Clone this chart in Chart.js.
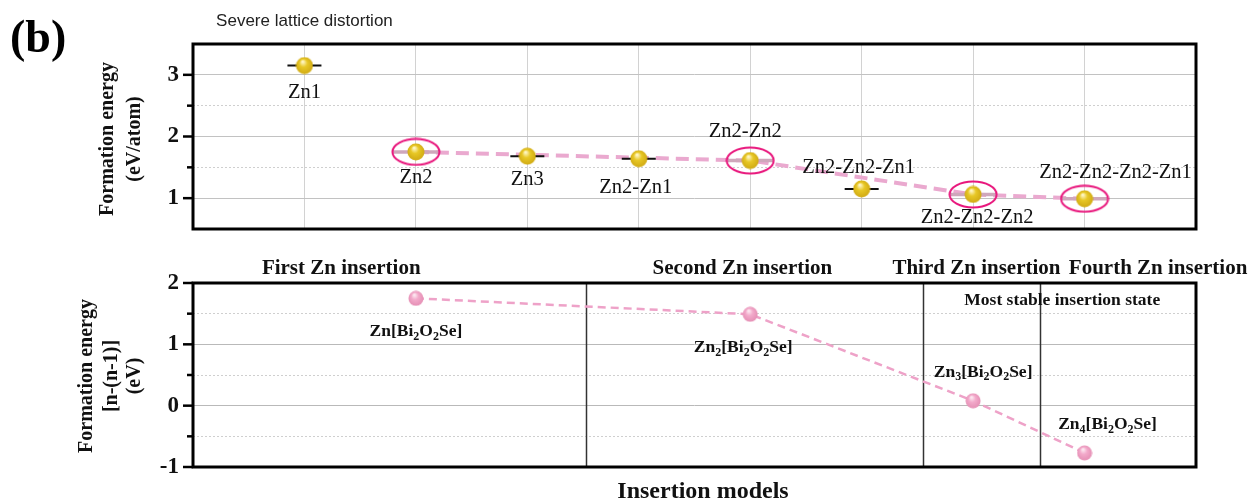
<!DOCTYPE html>
<html>
<head>
<meta charset="utf-8">
<script src="https://cdn.jsdelivr.net/npm/chart.js@4.4.1/dist/chart.umd.min.js"></script>
<style>
  html, body { margin: 0; padding: 0; background: #fff; }
  #wrap { position: relative; width: 1252px; height: 502px; overflow: hidden; }
  #wrap canvas { position: absolute; left: 0; top: 0; }
</style>
</head>
<body>
<div id="wrap">
  <canvas id="perAtom" width="1252" height="502"></canvas>
  <canvas id="perStep" width="1252" height="502"></canvas>
</div>
<script>
// ---- data ----
const models = ['Zn1', 'Zn2', 'Zn3', 'Zn2-Zn1', 'Zn2-Zn2', 'Zn2-Zn2-Zn1', 'Zn2-Zn2-Zn2', 'Zn2-Zn2-Zn2-Zn1'];
const energyPerAtom = [3.15, 1.75, 1.68, 1.64, 1.61, 1.15, 1.06, 0.99];
const stableModels = ['Zn2', 'Zn2-Zn2', 'Zn2-Zn2-Zn2', 'Zn2-Zn2-Zn2-Zn1'];

const insertionSteps = ['First Zn insertion', 'Second Zn insertion', 'Third Zn insertion', 'Fourth Zn insertion'];
const stepFormulas = ['Zn[Bi2O2Se]', 'Zn2[Bi2O2Se]', 'Zn3[Bi2O2Se]', 'Zn4[Bi2O2Se]'];
const stepEnergy = [1.75, 1.49, 0.08, -0.77];

const perAtomTickLabels = [1, 2, 3];
const perStepTickLabels = [-1, 0, 1, 2];

// ---- layout ----
const topLabelOffsets = [[0, 27], [0, 26], [0, 23], [-3, 29], [-5, -29], [-3, -21], [4, 23], [31, -26]];
const bottomLabelOffsets = [[0, 32], [-7, 32], [10, -30], [23, -30]];
const stepTitleX = [1.33, 4.93, 7.03, 8.66];
const stageDividers = [3.53, 6.55, 7.6];

const SERIF = '"Liberation Serif", "Times New Roman", serif';
const SANS = '"Liberation Sans", Arial, sans-serif';

// ---- point glyphs ----
function sphere(d, light, base, dark) {
  const c = document.createElement('canvas');
  c.width = c.height = d;
  const g = c.getContext('2d');
  const r = d / 2;
  const grd = g.createRadialGradient(r * 0.8, r * 0.55, r * 0.08, r, r, r);
  grd.addColorStop(0, light);
  grd.addColorStop(0.4, base);
  grd.addColorStop(1, dark);
  g.fillStyle = grd;
  g.beginPath();
  g.arc(r, r, r - 0.5, 0, Math.PI * 2);
  g.fill();
  return c;
}
function ring(w, h, color) {
  const c = document.createElement('canvas');
  c.width = w; c.height = h;
  const g = c.getContext('2d');
  g.strokeStyle = color;
  g.lineWidth = 2;
  g.beginPath();
  g.ellipse(w / 2, h / 2, w / 2 - 1.5, h / 2 - 1.5, 0, 0, Math.PI * 2);
  g.stroke();
  return c;
}
const goldBall = sphere(18, '#fff6c4', '#e8c826', '#cfa812');
const pinkBall = sphere(16, '#fde8f1', '#f3aacb', '#e48db3');
const stableRing = ring(50, 29, '#e8167c');

// ---- helpers ----
function numTick(v) { return Math.round(v * 2) / 2; }
function drawFrame(chart) {
  const { ctx, chartArea: a } = chart;
  ctx.save();
  ctx.strokeStyle = '#000';
  ctx.lineWidth = 3;
  ctx.strokeRect(a.left, a.top, a.right - a.left, a.bottom - a.top);
  ctx.restore();
}
function drawTickMarks(chart, labelled) {
  const { ctx, chartArea: a } = chart;
  const y = chart.scales.y;
  ctx.save();
  ctx.strokeStyle = '#000';
  ctx.lineWidth = 2.5;
  y.ticks.forEach(t => {
    const major = labelled.includes(t.value);
    const edge = t.value === y.min || t.value === y.max;
    if (!major && edge) return;
    const py = y.getPixelForValue(t.value);
    const len = major ? 10 : 6;
    ctx.beginPath();
    ctx.moveTo(a.left - len, py);
    ctx.lineTo(a.left, py);
    ctx.stroke();
  });
  ctx.restore();
}
function verticalText(ctx, lines, xs, cy, font) {
  ctx.save();
  ctx.font = font;
  ctx.fillStyle = '#111';
  ctx.textAlign = 'center';
  ctx.textBaseline = 'middle';
  lines.forEach((s, i) => {
    ctx.save();
    ctx.translate(xs[i], cy);
    ctx.rotate(-Math.PI / 2);
    ctx.fillText(s, 0, 0);
    ctx.restore();
  });
  ctx.restore();
}
// chemical formula with subscript digits
function drawFormula(ctx, text, cx, cy, size) {
  const runs = [];
  for (const ch of text) {
    const sub = /[0-9]/.test(ch);
    if (runs.length && runs[runs.length - 1].sub === sub) runs[runs.length - 1].s += ch;
    else runs.push({ s: ch, sub });
  }
  const mainFont = `bold ${size}px ${SERIF}`;
  const subFont = `bold ${Math.round(size * 0.66)}px ${SERIF}`;
  let w = 0;
  runs.forEach(r => { ctx.font = r.sub ? subFont : mainFont; r.w = ctx.measureText(r.s).width; w += r.w; });
  let x = cx - w / 2;
  const base = cy + size * 0.33;
  ctx.textAlign = 'left';
  ctx.textBaseline = 'alphabetic';
  runs.forEach(r => {
    ctx.font = r.sub ? subFont : mainFont;
    ctx.fillText(r.s, x, r.sub ? base + size * 0.22 : base);
    x += r.w;
  });
}

const perAtomPoints = models.map((m, i) => ({ x: i + 1, y: energyPerAtom[i] }));
const stablePoints = perAtomPoints.filter((p, i) => stableModels.includes(models[i]));
const otherPoints = perAtomPoints.filter((p, i) => !stableModels.includes(models[i]));
const stepPoints = stableModels.map((m, i) => ({ x: models.indexOf(m) + 1, y: stepEnergy[i] }));

function yAxis(min, max, labels, majorColor) {
  return {
    type: 'linear', min, max,
    afterFit: s => { s.width = 60; },
    ticks: {
      stepSize: 0.5, autoSkip: false, padding: 14,
      color: '#111',
      font: { family: SERIF, size: 23, weight: 'bold' },
      callback: v => labels.includes(numTick(v)) ? String(numTick(v)) : ''
    },
    grid: {
      drawTicks: false,
      lineWidth: 1,
      color: ctx => {
        const v = ctx.tick ? ctx.tick.value : null;
        if (v === min || v === max) return 'rgba(0,0,0,0)';
        return Number.isInteger(v) ? majorColor : '#cfcfcf';
      }
    },
    border: {
      display: false,
      dash: ctx => (ctx.tick && !Number.isInteger(ctx.tick.value)) ? [2, 2] : []
    }
  };
}
function xAxis(showGrid) {
  return {
    type: 'linear', min: 0, max: 9,
    afterFit: s => { s.height = 0; },
    ticks: { display: false, stepSize: 1 },
    grid: {
      display: showGrid,
      drawTicks: false,
      color: ctx => {
        const v = ctx.tick ? ctx.tick.value : 0;
        return (v > 0 && v < 9) ? '#d2d2d2' : 'rgba(0,0,0,0)';
      }
    },
    border: { display: false }
  };
}

// ---- upper panel: formation energy per atom ----
const perAtomDecor = {
  id: 'perAtomDecor',
  afterDraw(chart) {
    const { ctx } = chart;
    const xs = chart.scales.x, ys = chart.scales.y;
    drawFrame(chart);
    drawTickMarks(chart, perAtomTickLabels);
    ctx.save();
    ctx.fillStyle = '#111';
    ctx.font = `20.5px ${SERIF}`;
    ctx.textAlign = 'center';
    ctx.textBaseline = 'middle';
    models.forEach((m, i) => {
      const px = xs.getPixelForValue(i + 1) + topLabelOffsets[i][0];
      const py = ys.getPixelForValue(energyPerAtom[i]) + topLabelOffsets[i][1];
      ctx.fillText(m, px, py);
    });
    ctx.font = `17px ${SANS}`;
    ctx.fillStyle = '#222';
    ctx.fillText('Severe lattice distortion', xs.getPixelForValue(1), 21);
    ctx.font = `bold 46px ${SERIF}`;
    ctx.fillStyle = '#000';
    ctx.textAlign = 'left';
    ctx.textBaseline = 'alphabetic';
    ctx.fillText('(b)', 10, 52);
    ctx.restore();
    verticalText(ctx, ['Formation energy', '(eV/atom)'], [108, 135], 139, `bold 20px ${SERIF}`);
  }
};

new Chart(document.getElementById('perAtom'), {
  type: 'scatter',
  data: {
    datasets: [
      {
        label: 'models',
        data: perAtomPoints,
        pointStyle: goldBall, pointRadius: 9,
        order: 0
      },
      {
        label: 'stable rings',
        data: stablePoints,
        pointStyle: stableRing, pointRadius: 12,
        order: 1
      },
      {
        label: 'levels',
        data: otherPoints,
        pointStyle: 'line', pointRadius: 17,
        borderColor: '#111', pointBorderWidth: 2, borderWidth: 2,
        order: 2
      },
      {
        label: 'stable levels',
        data: stablePoints,
        pointStyle: 'line', pointRadius: 23,
        borderColor: '#cfa7bb', pointBorderWidth: 3.5, borderWidth: 3.5,
        order: 2
      },
      {
        label: 'stable path',
        data: stablePoints,
        showLine: true,
        borderColor: '#eaa9cf', borderWidth: 4, borderDash: [13, 7],
        pointRadius: 0,
        order: 3
      }
    ]
  },
  options: {
    responsive: false, animation: false, devicePixelRatio: 1, events: [],
    layout: { padding: { left: 133, top: 44, right: 56, bottom: 273 } },
    plugins: { legend: { display: false }, tooltip: { enabled: false } },
    scales: { x: xAxis(true), y: yAxis(0.5, 3.5, perAtomTickLabels, '#c2c2c2') }
  },
  plugins: [perAtomDecor]
});

// ---- lower panel: stepwise formation energy ----
const perStepDecor = {
  id: 'perStepDecor',
  beforeDatasetsDraw(chart) {
    const { ctx, chartArea: a } = chart;
    const xs = chart.scales.x;
    ctx.save();
    ctx.strokeStyle = '#333';
    ctx.lineWidth = 1.5;
    stageDividers.forEach(v => {
      const px = Math.round(xs.getPixelForValue(v)) + 0.5;
      ctx.beginPath();
      ctx.moveTo(px, a.top);
      ctx.lineTo(px, a.bottom);
      ctx.stroke();
    });
    ctx.restore();
  },
  afterDraw(chart) {
    const { ctx } = chart;
    const xs = chart.scales.x, ys = chart.scales.y;
    drawFrame(chart);
    drawTickMarks(chart, perStepTickLabels);
    ctx.save();
    ctx.fillStyle = '#111';
    ctx.textAlign = 'center';
    ctx.textBaseline = 'middle';
    ctx.font = `bold 21px ${SERIF}`;
    insertionSteps.forEach((s, i) => {
      ctx.fillText(s, xs.getPixelForValue(stepTitleX[i]), 269);
    });
    ctx.font = `bold 17.5px ${SERIF}`;
    ctx.fillText('Most stable insertion state', xs.getPixelForValue(7.8), 300);
    ctx.font = `bold 24px ${SERIF}`;
    ctx.fillText('Insertion models', 703, 492);
    stepFormulas.forEach((f, i) => {
      const p = stepPoints[i];
      drawFormula(ctx, f,
        xs.getPixelForValue(p.x) + bottomLabelOffsets[i][0],
        ys.getPixelForValue(p.y) + bottomLabelOffsets[i][1], 17.5);
    });
    ctx.restore();
    verticalText(ctx, ['Formation energy', '[n-(n-1)]', '(eV)'], [87, 112, 135], 376, `bold 20px ${SERIF}`);
  }
};

new Chart(document.getElementById('perStep'), {
  type: 'scatter',
  data: {
    datasets: [
      {
        label: 'insertion steps',
        data: stepPoints,
        pointStyle: pinkBall, pointRadius: 8,
        order: 0
      },
      {
        label: 'step path',
        data: stepPoints,
        showLine: true,
        borderColor: '#eea2c8', borderWidth: 2.5, borderDash: [8, 5],
        pointRadius: 0,
        order: 1
      }
    ]
  },
  options: {
    responsive: false, animation: false, devicePixelRatio: 1, events: [],
    layout: { padding: { left: 133, top: 283, right: 56, bottom: 35 } },
    plugins: { legend: { display: false }, tooltip: { enabled: false } },
    scales: { x: xAxis(false), y: yAxis(-1, 2, perStepTickLabels, '#b9b9b9') }
  },
  plugins: [perStepDecor]
});
</script>
</body>
</html>
